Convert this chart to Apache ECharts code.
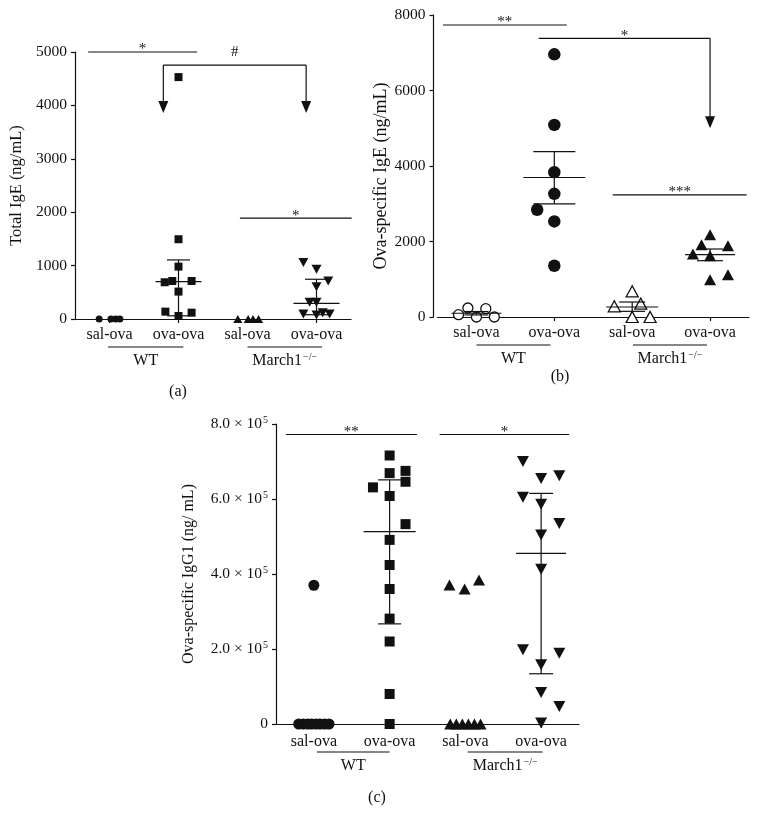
<!DOCTYPE html>
<html><head><meta charset="utf-8">
<script src="https://cdn.jsdelivr.net/npm/echarts@6/dist/echarts.min.js"></script>
<style>html,body{margin:0;padding:0;background:#fff}#c{width:759px;height:833px}</style>
</head><body><div id="c"></div>
<script>
// ---------- categories / labels ----------
const groups = ['sal-ova', 'ova-ova', 'sal-ova', 'ova-ova'];
const strains = ['WT', 'March1'];
const strainSup = ['', '\u2212/\u2212'];
const panelLetters = ['(a)', '(b)', '(c)'];
const yNames = ['Total IgE (ng/mL)', 'Ova-specific IgE (ng/mL)', 'Ova-specific IgG1 (ng/ mL)'];
const yMax = [5000, 8000, 800000];
const yStep = [1000, 2000, 200000];
const cExponent = 5;

// ---------- panel (a): total IgE ----------
const aWtSalY = [0, 0, 0, 0];
const aWtSalX = [-0.15, 0.02, 0.09, 0.15];
const aWtOvaY = [4530, 1494, 981, 688, 712, 712, 513, 138, 119, 56];
const aWtOvaX = [0, 0, 0, -0.2, -0.09, 0.19, 0, -0.19, 0.19, 0];
const aMuSalY = [0, 0, 0, 0];
const aMuSalX = [-0.14, 0.01, 0.08, 0.16];
const aMuOvaY = [1056, 932, 712, 606, 313, 313, 94, 75, 118, 94];
const aMuOvaX = [-0.19, 0, 0.17, 0, -0.1, 0, -0.19, 0, 0.09, 0.19];
// [group, centre, upper, lower]
const aStats = [[1, 700, 1106, 60], [3, 294, 744, 80]];
// [x1, x2, y, dropLeftTo, dropRightTo, label]
const aSig = [[-0.31, 1.27, 5000, null, null, '*'], [0.78, 2.85, 4756, 3856, 3856, '#'], [1.89, 3.51, 1888, null, null, '*']];
const aSpans = [[-0.02, 1.07, 0], [2, 3.08, 1]];

// ---------- panel (b): ova-specific IgE ----------
const bWtSalY = [62, 238, 0, 220, 0];
const bWtSalX = [-0.23, -0.11, 0, 0.12, 0.23];
const bWtOvaY = [6958, 5088, 3836, 3263, 2840, 2531, 1358];
const bWtOvaX = [0, 0, 0, 0, -0.22, 0, 0];
const bMuSalY = [680, 353, 283, 0, 0];
const bMuSalX = [0, 0.11, -0.23, 0, 0.23];
const bMuOvaY = [2181, 1916, 1890, 1669, 1625, 989, 1121];
const bMuOvaX = [0, -0.11, 0.23, -0.22, 0, 0, 0.23];
const bStats = [[0, 100, 145, 55], [1, 3695, 4383, 2998], [2, 265, 397, 150], [3, 1651, 1801, 1492]];
const bSig = [[-0.43, 1.16, 7735, null, null, '**'], [0.80, 3.0, 7383, null, 5000, '*'], [1.75, 3.47, 3237, null, null, '***']];
const bSpans = [[0, 0.95, 0], [2.01, 2.96, 1]];

// ---------- panel (c): ova-specific IgG1 ----------
const cWtSalY = [370000, 0, 0, 0, 0, 0, 0, 0, 0];
const cWtSalX = [0, -0.2, -0.14, -0.08, -0.03, 0.03, 0.08, 0.14, 0.2];
const cWtOvaY = [716000, 669000, 631000, 675000, 646000, 608000, 533000, 491000, 424000, 360000, 281000, 220000, 80000, 0];
const cWtOvaX = [0, 0, -0.22, 0.21, 0.21, 0, 0.21, 0, 0, 0, 0, 0, 0, 0];
const cMuSalY = [371000, 360000, 384000, 0, 0, 0, 0, 0, 0];
const cMuSalX = [-0.21, -0.01, 0.18, -0.2, -0.12, -0.04, 0.04, 0.12, 0.2];
const cMuOvaY = [700000, 655000, 662000, 605000, 586000, 535000, 504000, 413000, 198000, 189000, 158000, 84000, 47000, 3000];
const cMuOvaX = [-0.24, 0, 0.24, -0.24, 0, 0.24, 0, 0, -0.24, 0.24, 0, 0, 0.24, 0];
const cStats = [[1, 513000, 651000, 267000], [3, 455000, 615000, 134000]];
const cSig = [[-0.37, 1.36, 772000, null, null, '**'], [1.66, 3.37, 772000, null, null, '*']];
const cSpans = [[0.04, 1, 0], [2.03, 3.02, 1]];

// ---------- styling ----------
const FONT = 'Liberation Serif';
const INK = '#111111';
const LW = 1.2;
const grids = [
  {left: 75, top: 52, width: 276, height: 267},
  {left: 437.5, top: 15, width: 311.5, height: 302},
  {left: 276, top: 424, width: 303, height: 300}
];
const yOffset = [0, 4, 0];
const yNameSize = [16.5, 18, 16];
const yNameGap = [50, 38, 79];
const yNamePad = [[0, 0, 0, 0], [0, 20, 0, 0], [0, 0, 0, 0]];
const xLabelMargin = [8, 8, 10];
const meanHW = [[23, 23, 23, 23], [25, 31, 26, 25], [26, 26, 25, 25]];
const capHW = [[11.5, 11.5, 11.5, 11.5], [12, 21, 13, 13], [11.5, 11.5, 12, 12]];
const letterPos = [[178, 392], [560, 377], [377, 798]];

function pts(xs, ys, g) { return ys.map((y, i) => [g + xs[i], y]); }

function scat(grid, data, symbol, size, rotate, open) {
  return {
    type: 'scatter', xAxisIndex: 3 + grid, yAxisIndex: grid, data: data,
    symbol: symbol, symbolSize: size, symbolRotate: rotate || 0, z: 2, silent: true,
    itemStyle: open ? {color: '#fff', borderColor: INK, borderWidth: 1.3, opacity: 1} : {color: INK, borderWidth: 0, opacity: 1}
  };
}

function statsSeries(grid, rows) {
  return {
    type: 'custom', xAxisIndex: 3 + grid, yAxisIndex: grid, z: 5, silent: true,
    data: rows, encode: {x: 0, y: [1, 2, 3]},
    renderItem: function (params, api) {
      const g = api.value(0);
      const c = api.coord([g, api.value(1)]);
      const u = api.coord([g, api.value(2)]);
      const l = api.coord([g, api.value(3)]);
      const mh = meanHW[grid][g], ch = capHW[grid][g];
      const st = {stroke: INK, lineWidth: LW};
      return {type: 'group', children: [
        {type: 'line', shape: {x1: c[0], y1: u[1], x2: c[0], y2: l[1]}, style: st},
        {type: 'line', shape: {x1: c[0] - mh, y1: c[1], x2: c[0] + mh, y2: c[1]}, style: st},
        {type: 'line', shape: {x1: c[0] - ch, y1: u[1], x2: c[0] + ch, y2: u[1]}, style: st},
        {type: 'line', shape: {x1: c[0] - ch, y1: l[1], x2: c[0] + ch, y2: l[1]}, style: st}
      ]};
    }
  };
}

function sigSeries(grid, rows) {
  return {
    type: 'custom', xAxisIndex: 3 + grid, yAxisIndex: grid, z: 6, silent: true, clip: false,
    data: rows.map(r => [r[0], r[2]]), encode: {x: 0, y: 1},
    renderItem: function (params, api) {
      const r = rows[params.dataIndex];
      const p1 = api.coord([r[0], r[2]]), p2 = api.coord([r[1], r[2]]);
      const st = {stroke: INK, lineWidth: LW};
      const ch = [{type: 'line', shape: {x1: p1[0], y1: p1[1], x2: p2[0], y2: p2[1]}, style: st}];
      [[r[0], r[3]], [r[1], r[4]]].forEach(d => {
        if (d[1] == null) return;
        const top = api.coord([d[0], r[2]]), tip = api.coord([d[0], d[1]]);
        ch.push({type: 'line', shape: {x1: top[0], y1: top[1], x2: tip[0], y2: tip[1] - 10}, style: st});
        ch.push({type: 'polygon', shape: {points: [[tip[0] - 5, tip[1] - 12], [tip[0] + 5, tip[1] - 12], [tip[0], tip[1]]]}, style: {fill: INK}});
      });
      const lift = r[5] === '#' ? 13 : 2.5;
      ch.push({type: 'text', x: (p1[0] + p2[0]) / 2, y: p1[1] - lift,
        style: {text: r[5], align: 'center', verticalAlign: 'middle', fill: INK, fontFamily: FONT, fontSize: 15}});
      return {type: 'group', children: ch};
    }
  };
}

function groupSeries(grid, spans) {
  return {
    type: 'custom', xAxisIndex: 3 + grid, yAxisIndex: grid, z: 6, silent: true, clip: false,
    data: spans.map(s => [s[0], 0]), encode: {x: 0, y: 1},
    renderItem: function (params, api) {
      const s = spans[params.dataIndex];
      const a = api.coord([s[0], 0]), b = api.coord([s[1], 0]);
      const y0 = a[1];
      const sup = strainSup[s[2]];
      const txt = sup ? '{n|' + strains[s[2]] + '}{s|' + sup + '}' : '{n|' + strains[s[2]] + '}';
      return {type: 'group', children: [
        {type: 'line', shape: {x1: a[0], y1: y0 + 28, x2: b[0], y2: y0 + 28}, style: {stroke: INK, lineWidth: LW}},
        {type: 'text', x: (a[0] + b[0]) / 2, y: y0 + 42, style: {
          text: txt, align: 'center', verticalAlign: 'middle', fill: INK,
          rich: {
            n: {fontFamily: FONT, fontSize: 16, fill: INK, lineHeight: 18},
            s: {fontFamily: FONT, fontSize: 10, fill: INK, verticalAlign: 'top', lineHeight: 18, padding: [0, 0, 6, 1]}
          }
        }}
      ]};
    }
  };
}

const xAxes = [], yAxes = [];
for (let i = 0; i < 3; i++) {
  xAxes.push({
    type: 'category', gridIndex: i, data: groups, boundaryGap: true,
    axisLine: {onZero: false, lineStyle: {color: INK, width: LW}},
    axisTick: {show: true, alignWithLabel: true, length: 4, lineStyle: {color: INK, width: LW}},
    axisLabel: {fontFamily: FONT, fontSize: 16, color: INK, margin: xLabelMargin[i], interval: 0},
    splitLine: {show: false}
  });
}
for (let i = 0; i < 3; i++) {
  xAxes.push({type: 'value', gridIndex: i, min: -0.5, max: 3.5, show: false, axisLine: {onZero: false}});
}
for (let i = 0; i < 3; i++) {
  yAxes.push({
    type: 'value', gridIndex: i, min: 0, max: yMax[i], interval: yStep[i], offset: yOffset[i],
    name: yNames[i], nameLocation: 'middle', nameGap: yNameGap[i],
    nameTextStyle: {fontFamily: FONT, fontSize: yNameSize[i], color: INK, padding: yNamePad[i]},
    axisLine: {show: true, onZero: false, lineStyle: {color: INK, width: LW}},
    axisTick: {show: true, length: 4, lineStyle: {color: INK, width: LW}},
    axisLabel: {
      fontFamily: FONT, fontSize: 15.5, color: INK, margin: 8,
      formatter: i === 2 ? function (v) {
        if (v === 0) return '{m|0}';
        return '{m|' + (v / Math.pow(10, cExponent)).toFixed(1) + ' \u00d7 10}{s|' + cExponent + '}';
      } : function (v) { return String(v); },
      rich: i === 2 ? {
        m: {fontFamily: FONT, fontSize: 15.5, color: INK, lineHeight: 18},
        s: {fontFamily: FONT, fontSize: 10, color: INK, verticalAlign: 'top', lineHeight: 18, padding: [0, 0, 7, 1]}
      } : undefined
    },
    splitLine: {show: false}
  });
}

const series = [
  scat(0, pts(aWtSalX, aWtSalY, 0), 'circle', 7),
  scat(0, pts(aWtOvaX, aWtOvaY, 1), 'rect', 8),
  scat(0, pts(aMuSalX, aMuSalY, 2), 'triangle', [9, 8]),
  scat(0, pts(aMuOvaX, aMuOvaY, 3), 'triangle', [10, 9], 180),
  scat(1, pts(bWtSalX, bWtSalY, 0), 'circle', 10, 0, true),
  scat(1, pts(bWtOvaX, bWtOvaY, 1), 'circle', 12.5),
  scat(1, pts(bMuSalX, bMuSalY, 2), 'triangle', [12, 11], 0, true),
  scat(1, pts(bMuOvaX, bMuOvaY, 3), 'triangle', [12, 11]),
  scat(2, pts(cWtSalX, cWtSalY, 0), 'circle', 11),
  scat(2, pts(cWtOvaX, cWtOvaY, 1), 'rect', 10),
  scat(2, pts(cMuSalX, cMuSalY, 2), 'triangle', [12, 11]),
  scat(2, pts(cMuOvaX, cMuOvaY, 3), 'triangle', [12, 11], 180),
  statsSeries(0, aStats), statsSeries(1, bStats), statsSeries(2, cStats),
  sigSeries(0, aSig), sigSeries(1, bSig), sigSeries(2, cSig),
  groupSeries(0, aSpans), groupSeries(1, bSpans), groupSeries(2, cSpans)
];

const chart = echarts.init(document.getElementById('c'), null, {renderer: 'canvas'});
chart.setOption({
  backgroundColor: '#fff',
  animation: false,
  grid: grids,
  xAxis: xAxes,
  yAxis: yAxes,
  series: series,
  graphic: panelLetters.map((t, i) => ({
    type: 'text', x: letterPos[i][0], y: letterPos[i][1],
    style: {text: t, align: 'center', verticalAlign: 'middle', fill: INK, fontFamily: FONT, fontSize: 16}
  }))
});
</script>
</body></html>
